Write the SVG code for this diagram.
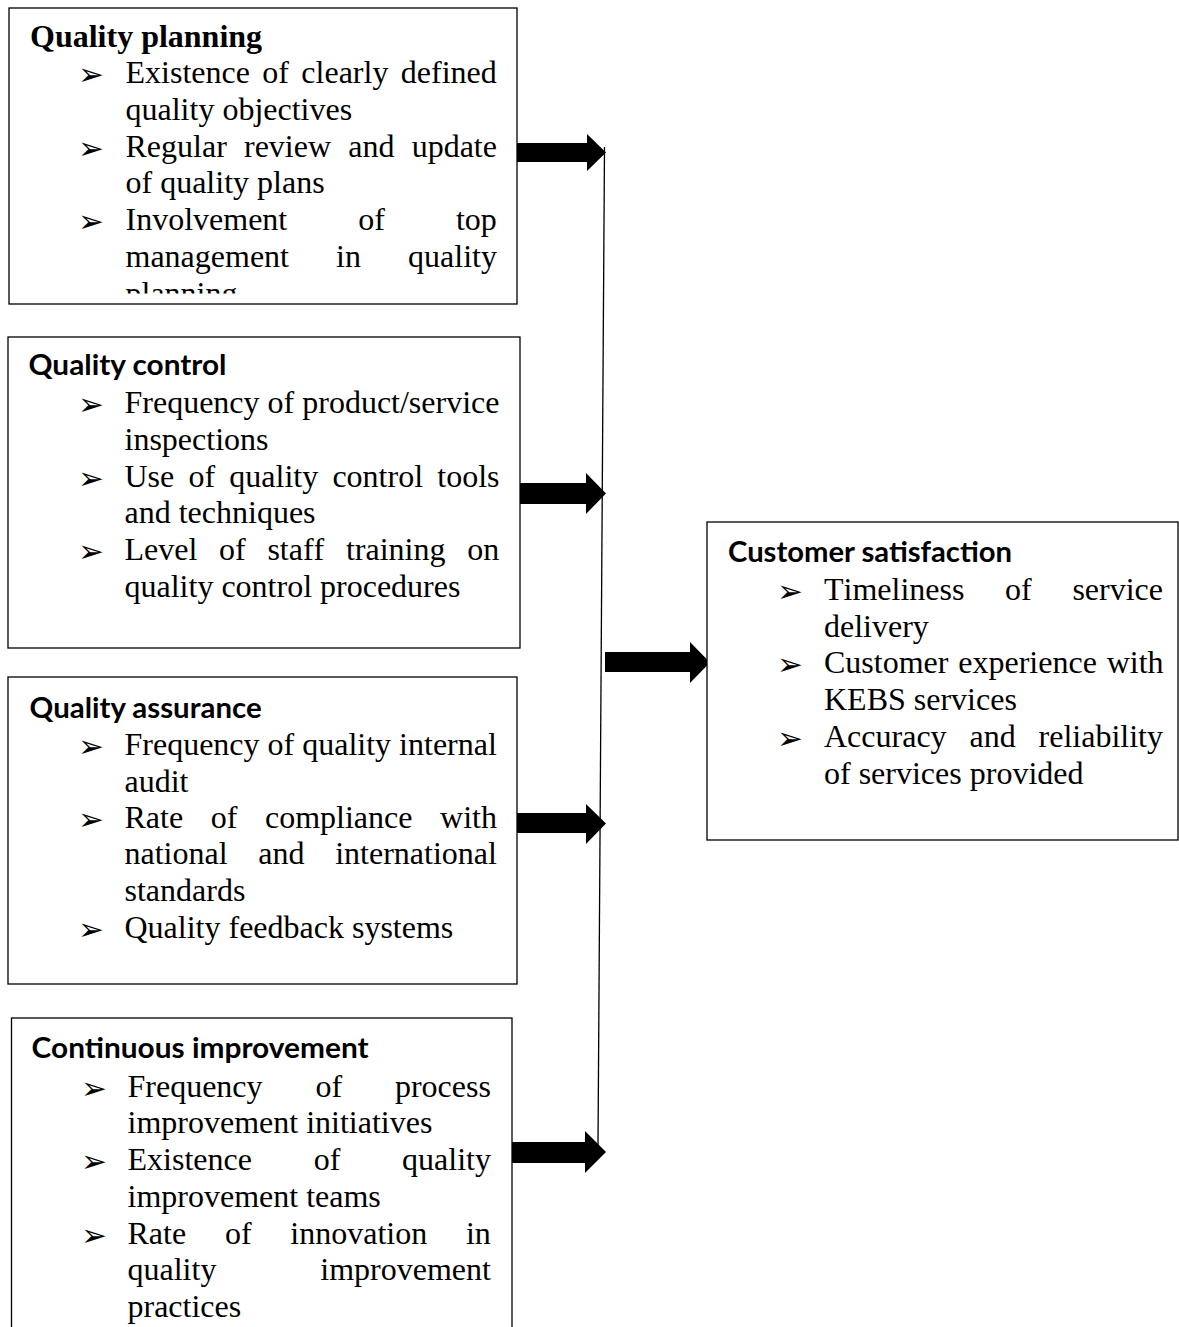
<svg xmlns="http://www.w3.org/2000/svg" width="1179" height="1327" viewBox="0 0 1179 1327">
<style>
.box{fill:#fff;stroke:#000;stroke-width:1.3}
.t{font-family:"Liberation Serif","Times New Roman",serif;font-size:32px;fill:#000;font-kerning:none}
.tb{font-family:"Liberation Serif","Times New Roman",serif;font-size:32px;font-weight:bold;fill:#000;font-kerning:none}
.h{font-family:Lato,"Noto Sans",sans-serif;font-size:28px;font-weight:bold;fill:#000}
.b{font-family:"DejaVu Sans",sans-serif;font-size:31px;fill:#000}
.arrow{fill:#000;stroke:none}
.conn{stroke:#000;stroke-width:1.3;fill:none}
</style>
<defs>
<clipPath id="clip1"><rect x="9" y="8" width="508" height="285.5"/></clipPath>
</defs>
<g id="connectors">
<line class="conn" x1="604.5" y1="147" x2="598" y2="1146"/>
<polygon class="arrow" points="517,143 587,143 587,134 606,152.5 587,171 587,162 517,162"/>
<polygon class="arrow" points="519,483 586,483 586,473 606,493.5 586,514 586,504 519,504"/>
<polygon class="arrow" points="517,813 586,813 586,804 606,823.5 586,844 586,833 517,833"/>
<polygon class="arrow" points="512,1142 585,1142 585,1131 606,1152 585,1173 585,1163 512,1163"/>
<polygon class="arrow" points="605,652 690,652 690,642 710,662.5 690,683 690,672 605,672"/>
</g>
<g id="quality-planning">
<rect class="box" x="9" y="8" width="508" height="296"/>
<text class="tb" x="30" y="47">Quality planning</text>
<text class="b" x="78" y="85">➢</text>
<text class="t" x="125.5" y="83" style="word-spacing:4.4px">Existence of clearly defined</text>
<text class="t" x="125.5" y="120">quality objectives</text>
<text class="b" x="78" y="159">➢</text>
<text class="t" x="125.5" y="157" style="word-spacing:9.2px">Regular review and update</text>
<text class="t" x="125.5" y="193">of quality plans</text>
<text class="b" x="78" y="232">➢</text>
<text class="t" x="125.5" y="230" style="word-spacing:63px">Involvement of top</text>
<text class="t" x="125.5" y="267" style="word-spacing:39.1px">management in quality</text>
<text class="t" x="125.5" y="304" clip-path="url(#clip1)">planning</text>
</g>
<g id="quality-control">
<rect class="box" x="8" y="337" width="512" height="311"/>
<text class="h" x="28.5" y="375" textLength="198" lengthAdjust="spacingAndGlyphs">Quality control</text>
<text class="b" x="78" y="415">➢</text>
<text class="t" x="124.5" y="413">Frequency of product/service</text>
<text class="t" x="124.5" y="450">inspections</text>
<text class="b" x="78" y="489">➢</text>
<text class="t" x="124.5" y="487" style="word-spacing:6.2px">Use of quality control tools</text>
<text class="t" x="124.5" y="523">and techniques</text>
<text class="b" x="78" y="562">➢</text>
<text class="t" x="124.5" y="560" style="word-spacing:13.7px">Level of staff training on</text>
<text class="t" x="124.5" y="597">quality control procedures</text>
</g>
<g id="quality-assurance">
<rect class="box" x="8" y="677" width="509" height="307"/>
<text class="h" x="29.6" y="718" textLength="232" lengthAdjust="spacingAndGlyphs">Quality assurance</text>
<text class="b" x="78" y="757">➢</text>
<text class="t" x="124.5" y="755">Frequency of quality internal</text>
<text class="t" x="124.5" y="792">audit</text>
<text class="b" x="78" y="830">➢</text>
<text class="t" x="124.5" y="828" style="word-spacing:19.6px">Rate of compliance with</text>
<text class="t" x="124.5" y="864" style="word-spacing:22.7px">national and international</text>
<text class="t" x="124.5" y="901">standards</text>
<text class="b" x="78" y="940">➢</text>
<text class="t" x="124.5" y="938">Quality feedback systems</text>
</g>
<g id="continuous-improvement">
<rect class="box" x="11.5" y="1018" width="500.5" height="330"/>
<text class="h" x="31.6" y="1058" textLength="337" lengthAdjust="spacingAndGlyphs">Continuous improvement</text>
<text class="b" x="81" y="1099">➢</text>
<text class="t" x="127.5" y="1097" style="word-spacing:44.85px">Frequency of process</text>
<text class="t" x="127.5" y="1133">improvement initiatives</text>
<text class="b" x="81" y="1172">➢</text>
<text class="t" x="127.5" y="1170" style="word-spacing:53.75px">Existence of quality</text>
<text class="t" x="127.5" y="1207">improvement teams</text>
<text class="b" x="81" y="1246">➢</text>
<text class="t" x="127.5" y="1244" style="word-spacing:30.77px">Rate of innovation in</text>
<text class="t" x="127.5" y="1280" style="word-spacing:95.9px">quality improvement</text>
<text class="t" x="127.5" y="1317">practices</text>
</g>
<g id="customer-satisfaction">
<rect class="box" x="707" y="522" width="471" height="318"/>
<text class="h" x="728" y="562" textLength="284" lengthAdjust="spacingAndGlyphs">Customer satisfaction</text>
<text class="b" x="777" y="602">➢</text>
<text class="t" x="824" y="600" style="word-spacing:32.65px">Timeliness of service</text>
<text class="t" x="824" y="637">delivery</text>
<text class="b" x="777" y="675">➢</text>
<text class="t" x="824" y="673" style="word-spacing:1.85px">Customer experience with</text>
<text class="t" x="824" y="710">KEBS services</text>
<text class="b" x="777" y="749">➢</text>
<text class="t" x="824" y="747" style="word-spacing:14.9px">Accuracy and reliability</text>
<text class="t" x="824" y="784">of services provided</text>
</g>
</svg>
